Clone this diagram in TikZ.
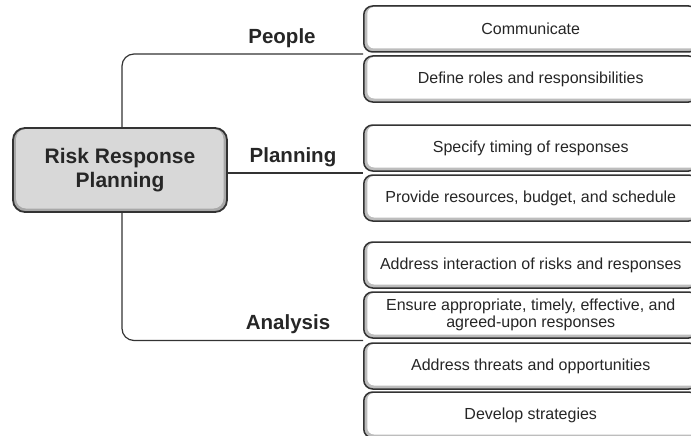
\documentclass[tikz,border=0pt]{standalone}
\usepackage{fontspec}
\setmainfont{Liberation Sans}
\usetikzlibrary{calc}
\definecolor{edge}{HTML}{333333}
\definecolor{shade}{HTML}{BDBDBD}
\definecolor{mainfill}{HTML}{D8D8D8}
\definecolor{mainshade}{HTML}{A8A8A8}
\begin{document}
\begin{tikzpicture}[x=1pt,y=-1pt,
  itembox/.style={draw=edge, line width=1.5pt, rounded corners=9pt, fill=shade,
    minimum width=334pt, minimum height=46pt, anchor=west, inner sep=0pt,
    align=center, font=\fontsize{16}{17.5}\selectfont, text=black!85,
    path picture={\fill[white, rounded corners=7pt]
      ([xshift=3.5pt,yshift=3.5pt]path picture bounding box.south west) rectangle
      ([xshift=2pt,yshift=-1pt]path picture bounding box.north east);}},
  mainbox/.style={draw=edge, line width=1.8pt, rounded corners=12pt, fill=mainshade,
    minimum width=214pt, minimum height=84pt, inner sep=0pt, align=center,
    font=\fontsize{21}{23.5}\selectfont\bfseries, text=black!85,
    path picture={\fill[mainfill, rounded corners=10pt]
      ([xshift=3pt,yshift=3.5pt]path picture bounding box.south west) rectangle
      ([xshift=-3.5pt,yshift=-1pt]path picture bounding box.north east);}},
  grouplabel/.style={font=\fontsize{20.5}{23}\selectfont\bfseries, text=black!85, inner sep=0pt},
  link/.style={draw=edge, line width=1.2pt, rounded corners=12pt}
]
\useasboundingbox (0,0) rectangle (691,436);
\clip (0,0) rectangle (691,436);

\node[mainbox] (main) at (120,170) {Risk Response\\Planning};

\node[itembox] (b1) at (363,29)  {Communicate};
\node[itembox] (b2) at (363,79)  {Define roles and responsibilities};
\node[itembox] (b3) at (363,148) {Specify timing of responses};
\node[itembox] (b4) at (363,198) {Provide resources, budget, and schedule};
\node[itembox] (b5) at (363,265) {Address interaction of risks and responses};
\node[itembox] (b6) at (363,315) {Ensure appropriate, timely, effective, and\\agreed-upon responses};
\node[itembox] (b7) at (363,366) {Address threats and opportunities};
\node[itembox] (b8) at (363,415) {Develop strategies};

\coordinate (j1) at ($(b1.south west)!0.5!(b2.north west)$);
\coordinate (j2) at ($(b3.south west)!0.5!(b4.north west)$);
\coordinate (j3) at ($(b6.south west)!0.5!(b7.north west)$);
\coordinate (t1) at ([xshift=2pt]main.north);
\coordinate (t3) at ([xshift=2pt]main.south);

\draw[link] (t1) |- (j1);
\draw[link] (main.east |- j2) -- (j2);
\draw[link] (t3) |- (j3);

\node[grouplabel] (lp) at (282,38) {People};
\node[grouplabel] (lpl) at (293,157) {Planning};
\node[grouplabel] (la) at (288,324) {Analysis};
\end{tikzpicture}
\end{document}
